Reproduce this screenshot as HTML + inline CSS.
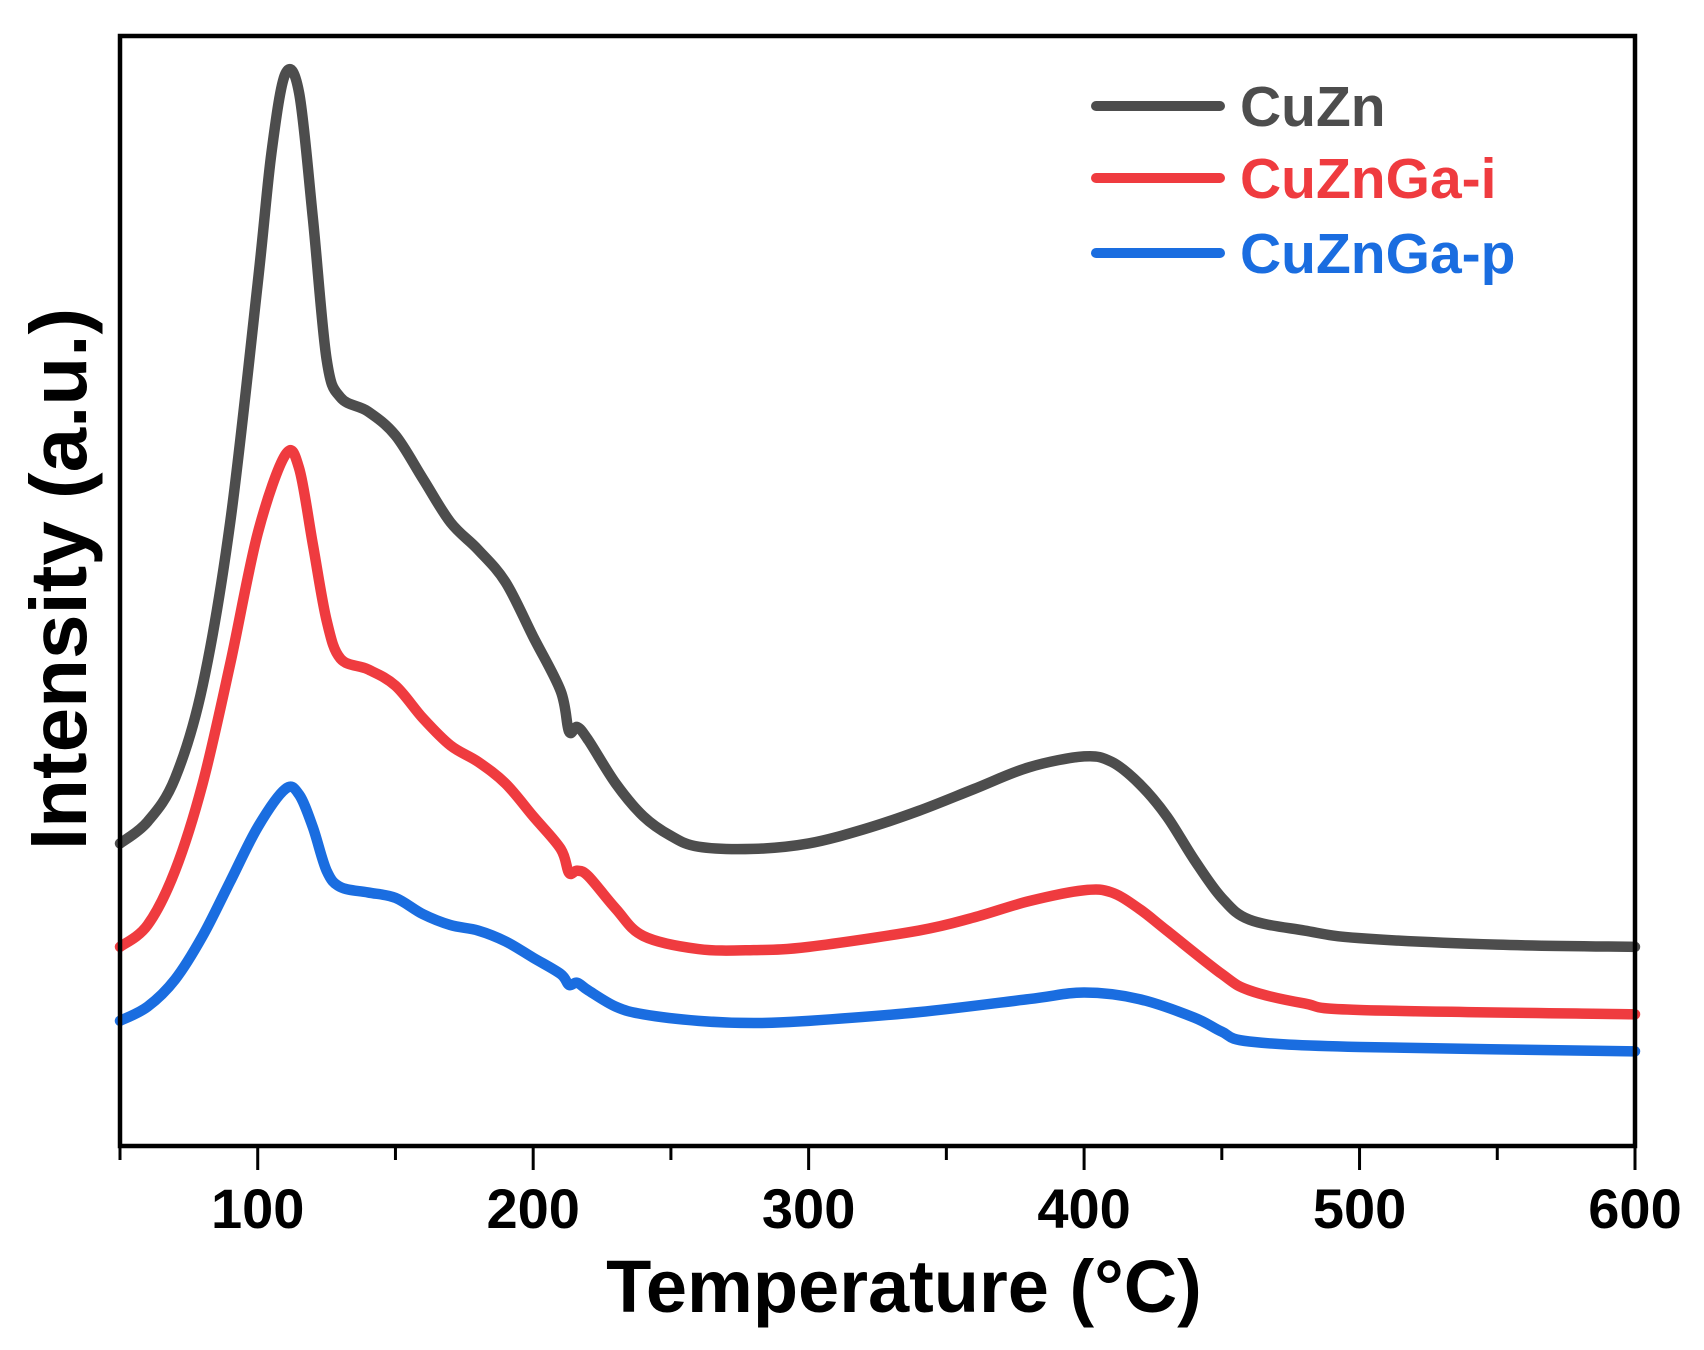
<!DOCTYPE html>
<html><head><meta charset="utf-8"><style>
html,body{margin:0;padding:0;background:#fff;}
svg{display:block;font-family:"Liberation Sans",Arial,sans-serif;font-weight:bold;}
</style></head><body>
<svg id="chart" width="1704" height="1350" viewBox="0 0 1704 1350"></svg>
<script>
const temps = [50,60,70,80,90,100,105,110,115,120,125,130,140,150,160,170,180,190,200,210,213,216,220,230,240,250,260,280,300,320,340,360,380,400,410,420,430,440,450,460,480,500,550,600];
const cuzn = [278,298,338,423,573,793,913,985,968,853,723,688,675,653,613,573,548,518,468,418,381,385,373,333,303,285,275,273,278,291,308,328,348,358,353,333,303,263,228,208,198,191,185,183];
const ctemps = [50,60,70,80,90,100,110,115,120,125,130,140,150,160,170,180,190,200,210,213,216,220,230,240,260,280,300,340,360,380,400,410,420,430,450,460,480,500,600];
const cuznGaI = [183,203,253,333,443,563,635,623,553,483,448,438,423,393,368,353,333,303,273,251,253,248,218,193,181,180,183,198,210,225,235,233,218,198,158,143,131,125,121];
const ptemps = [50,60,70,80,90,100,110,115,120,125,130,140,150,160,170,180,190,200,210,213,216,220,230,240,260,280,300,340,380,400,420,440,450,460,500,600];
const cuznGaP = [115,128,153,193,243,293,328,323,293,253,238,233,228,213,203,198,188,173,158,148,150,143,128,121,115,113,115,123,135,141,135,118,105,96,91,87];
const seriesNames = ["CuZn","CuZnGa-i","CuZnGa-p"];
const xTicks = [100,200,300,400,500,600];
const xMinor = [50,150,250,350,450,550];

const L=120,R=1635,T=36,B=1146;
const xMin=50,xMax=600,yMax=1020;
const sx=v=>L+(v-xMin)/(xMax-xMin)*(R-L);
const sy=v=>B-v/yMax*(B-T);
const svg=document.getElementById('chart');
const NS='http://www.w3.org/2000/svg';
function mk(tag,attrs,parent){const e=document.createElementNS(NS,tag);for(const k in attrs)e.setAttribute(k,attrs[k]);(parent||svg).appendChild(e);return e;}
function pathFrom(xs,ys){
  const p=xs.map((x,i)=>[sx(x),sy(ys[i])]);
  let d='M'+p[0][0]+','+p[0][1];
  for(let i=0;i<p.length-1;i++){
    const p0=p[i-1]||p[i],p1=p[i],p2=p[i+1],p3=p[i+2]||p2;
    const c1=[p1[0]+(p2[0]-p0[0])/6,p1[1]+(p2[1]-p0[1])/6];
    const c2=[p2[0]-(p3[0]-p1[0])/6,p2[1]-(p3[1]-p1[1])/6];
    d+=' C'+c1[0]+','+c1[1]+' '+c2[0]+','+c2[1]+' '+p2[0]+','+p2[1];
  }
  return d;
}
const colors=["#4d4d4d","#ef3b3f","#1a6de0"];
const data=[[temps,cuzn],[ctemps,cuznGaI],[ptemps,cuznGaP]];
const lineNames=["line-cuzn","line-cuznga-i","line-cuznga-p"];
data.forEach((s,i)=>{
  const p=mk('path',{d:pathFrom(s[0],s[1]),fill:'none',stroke:colors[i],'stroke-width':10.5,'stroke-linejoin':'round','stroke-linecap':'round'});
  
  
});
const fr=mk('rect',{x:L,y:T,width:R-L,height:B-T,fill:'none',stroke:'#000','stroke-width':4.5});


xTicks.forEach(t=>{
  const l=mk('line',{x1:sx(t),x2:sx(t),y1:B,y2:B+24,stroke:'#000','stroke-width':3});
  
  
  const tx=mk('text',{x:sx(t),y:1228,'text-anchor':'middle','font-size':56});
  tx.textContent=t;
  
  
});
xMinor.forEach(t=>{
  const l=mk('line',{x1:sx(t),x2:sx(t),y1:B,y2:B+14,stroke:'#000','stroke-width':3});
  
  
});
const xt=mk('text',{x:904,y:1312,'text-anchor':'middle','font-size':74});
xt.textContent='Temperature (°C)';


const yt=mk('text',{x:0,y:0,'text-anchor':'middle','font-size':80,transform:'translate(86,579) rotate(-90)'});
yt.textContent='Intensity (a.u.)';


const ly=[106,178,253];
seriesNames.forEach((n,i)=>{
  const g=mk('g',{});
  
  
  mk('line',{x1:1096,x2:1220,y1:ly[i],y2:ly[i],stroke:colors[i],'stroke-width':10,'stroke-linecap':'round'},g);
  const t=mk('text',{x:1240,y:ly[i]+20,'font-size':57,fill:colors[i]},g);
  t.textContent=n;
});
</script>
</body></html>
